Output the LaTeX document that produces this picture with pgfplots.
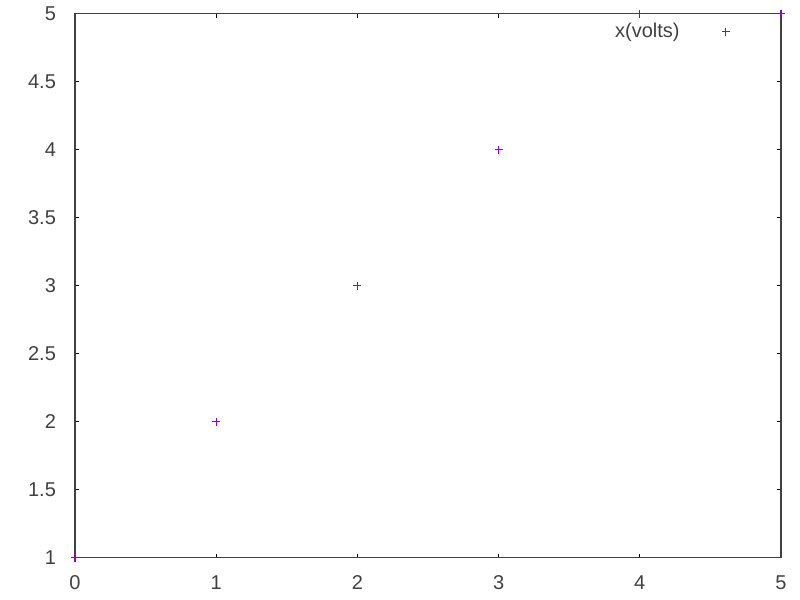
\documentclass[border=0pt]{standalone}
\usepackage{pgfplots}
\pgfplotsset{compat=1.18}
\usepackage{fontspec}
\setmainfont{Liberation Sans}
\definecolor{gpviolet}{RGB}{148,0,211}
\definecolor{axgray}{RGB}{64,64,64}
\begin{document}
\fontsize{10}{12}\selectfont
\begin{tikzpicture}
\begin{axis}[
  at={(0,0)}, anchor=south west,
  scale only axis,
  width=353pt, height=272pt,
  xmin=0, xmax=5, ymin=1, ymax=5,
  xtick={0,1,2,3,4,5},
  ytick={1,1.5,2,2.5,3,3.5,4,4.5,5},
  tick align=inside,
  major tick length=2pt,
  axis line style={axgray, line width=0.6pt},
  every tick/.style={black, line width=0.5pt},
  tick label style={font=\fontsize{10}{12}\selectfont, text=axgray},
  /pgf/number format/assume math mode=true,
  xticklabel style={yshift=-5.5pt},
  yticklabel style={xshift=-6pt},
  clip=false,
  legend plot pos=right,
  legend style={draw=none, fill=none, at={(1,1)}, anchor=east,
    xshift=-25.5pt, yshift=-9pt, font=\fontsize{10}{12}\selectfont, text=axgray,
    inner sep=0pt},
  legend cell align=right,
]
\addplot[only marks, mark=+, mark size=2pt, color=gpviolet, line width=0.6pt,
  mark options={solid, draw=gpviolet}]
  coordinates {(0,1) (1,2) (2,3) (3,4) (4,5) (5,5)};
\addlegendentry{x(volts)\hspace*{19pt}}
\end{axis}
\useasboundingbox (-37.5pt,-21pt) rectangle (362.5pt,278.5pt);
\end{tikzpicture}
\end{document}
